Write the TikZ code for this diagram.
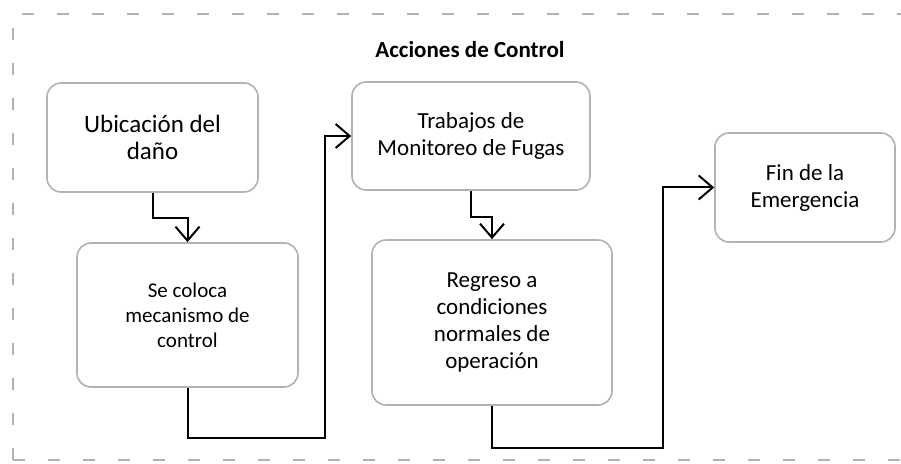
\documentclass[tikz,border=0pt]{standalone}
\usepackage{fontspec}
\setmainfont{Carlito}
\usetikzlibrary{arrows.meta}

\begin{document}
\begin{tikzpicture}[x=0.5pt, y=-0.5pt,
  accion/.style={draw=gray!60, line width=0.8pt, rounded corners=7pt, align=center, font=\fontsize{11.5}{13.5}\selectfont, inner sep=2pt},
  flecha/.style={draw=black, line width=1pt, -{Straight Barb[length=7pt, width=12pt, line width=1pt]}}]
\useasboundingbox (0,0) rectangle (901,464);
\draw [gray!60, line width=0.8pt, dash pattern=on 6pt off 11.5pt] (13,460) -- (13,14) -- (930,14);
\draw [gray!60, line width=0.8pt, dash pattern=on 6pt off 11.5pt] (13,460) -- (930,460);

\node (titulo) at (470, 50) [font=\fontsize{11.5}{13}\selectfont\bfseries] {Acciones de Control};

\node (ubic) at (152.5, 137.5) [accion, minimum width=105.5pt, minimum height=54.5pt, font=\fontsize{12.5}{13.5}\selectfont] {Ubicación del\\daño};
\node (monitoreo) at (471, 136) [accion, minimum width=119pt, minimum height=54pt] {Trabajos de\\Monitoreo de Fugas};
\node (fin) at (805, 187.5) [accion, minimum width=90pt, minimum height=54.5pt] {Fin de la\\Emergencia};
\node (coloca) at (187.5, 315) [accion, minimum width=110.5pt, minimum height=72pt, font=\fontsize{10.5}{12.5}\selectfont] {Se coloca\\mecanismo de\\control};
\node (regreso) at (492, 322.5) [accion, minimum width=120pt, minimum height=82.5pt] {Regreso a\\condiciones\\normales de\\operación};

\coordinate (codo1) at (325, 438);
\coordinate (codo2) at (663, 448);

\draw [flecha] (ubic.south) -- ++(0,25) -| (coloca.north);
\draw [flecha] (monitoreo.south) -- ++(0,26) -| (regreso.north);
\draw [flecha] (coloca.south) |- (codo1) |- (monitoreo.west);
\draw [flecha] (regreso.south) |- (codo2) |- (fin.west);
\end{tikzpicture}
\end{document}
